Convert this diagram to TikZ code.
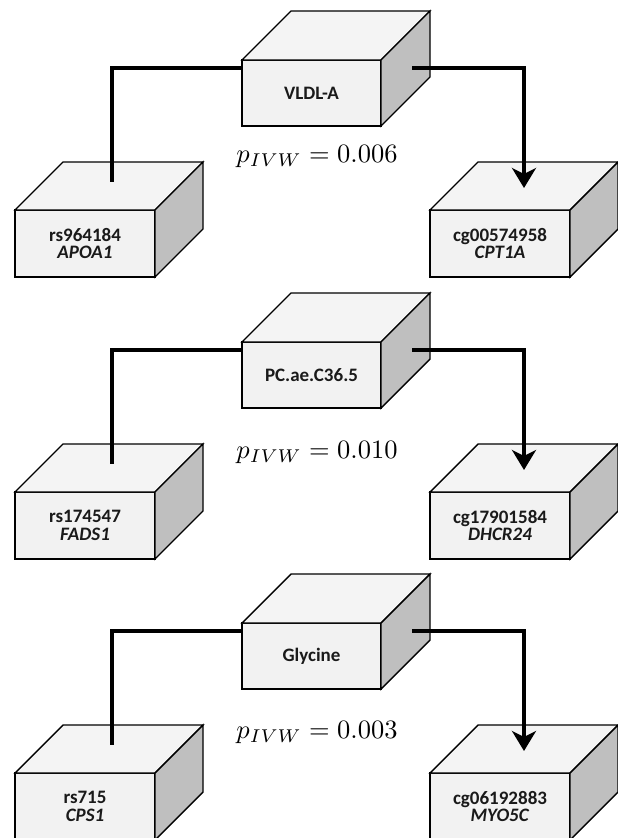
\documentclass[tikz,border=0pt]{standalone}
\usepackage[no-math]{fontspec}
\setmainfont{Carlito}
\usetikzlibrary{arrows.meta,calc}
\definecolor{frontgray}{HTML}{F2F2F2}
\definecolor{topgray}{HTML}{F4F4F4}
\definecolor{sidegray}{HTML}{BFBFBF}
\definecolor{txt}{HTML}{1A1A1A}
\tikzset{
  face/.style={draw=black, line width=1.4pt, line join=miter},
  frontbox/.style={face, fill=frontgray, inner sep=0pt, outer sep=0pt,
    align=center, text=txt, font=\fontsize{19}{17.5}\selectfont\bfseries},
  link/.style={line width=3.8pt, black},
  linkarrow/.style={link, -{Stealth[length=20pt,width=24pt,inset=6pt]}},
  pval/.style={text=black, font=\fontsize{10}{12}\selectfont, inner sep=0pt, scale=2.65}
}
% #1 name, #2 x, #3 y, #4 w, #5 h, #6 depth, #7 text
\newcommand{\mycube}[7]{%
  \node[frontbox, minimum width=#4pt, minimum height=#5pt, anchor=north west] (#1) at (#2,#3) {#7};
  \draw[face, fill=topgray] (#1.north west) -- ++(#6,-#6) -- ++(#4,0) -- (#1.north east) -- cycle;
  \draw[face, fill=sidegray] (#1.north east) -- ++(#6,-#6) -- ++(0,#5) -- (#1.south east) -- cycle;
}
% #1 id, #2 offset, #3 top text, #4 left text, #5 right text, #6 p value, #7 p y
\newcommand{\mygroup}[7]{%
  \begin{scope}[yshift=-#2pt]
    \mycube{t#1}{242}{60}{139}{66}{49}{#3}
    \mycube{l#1}{15}{210}{140}{67}{48}{#4}
    \mycube{r#1}{430}{210}{140}{67}{48}{#5}
    \coordinate (ls#1) at ($(t#1.north west)+(0,8)$);
    \coordinate (lc#1) at (112,68);
    \coordinate (le#1) at (112,182);
    \coordinate (rs#1) at (412,68);
    \coordinate (rc#1) at (524,68);
    \coordinate (re#1) at (524,188);
    \draw[link] (ls#1) -- (lc#1) -- (le#1);
    \draw[linkarrow] (rs#1) -- (rc#1) -- (re#1);
    \node[pval] (p#1) at (317,#7) {$p_{IVW} = 0.#6$};
  \end{scope}
}
\begin{document}
\begin{tikzpicture}[x=1pt,y=-1pt]
  \useasboundingbox[fill=white] (0,0) rectangle (618,838);
  \mygroup{a}{0}{VLDL-A}{rs964184\\\textit{APOA1}}{cg00574958\\\textit{CPT1A}}{006}{157}
  \mygroup{b}{282}{PC.ae.C36.5}{rs174547\\\textit{FADS1}}{cg17901584\\\textit{DHCR24}}{010}{171}
  \mygroup{c}{563}{Glycine}{rs715\\\textit{CPS1}}{cg06192883\\\textit{MYO5C}}{003}{170}
\end{tikzpicture}
\end{document}
